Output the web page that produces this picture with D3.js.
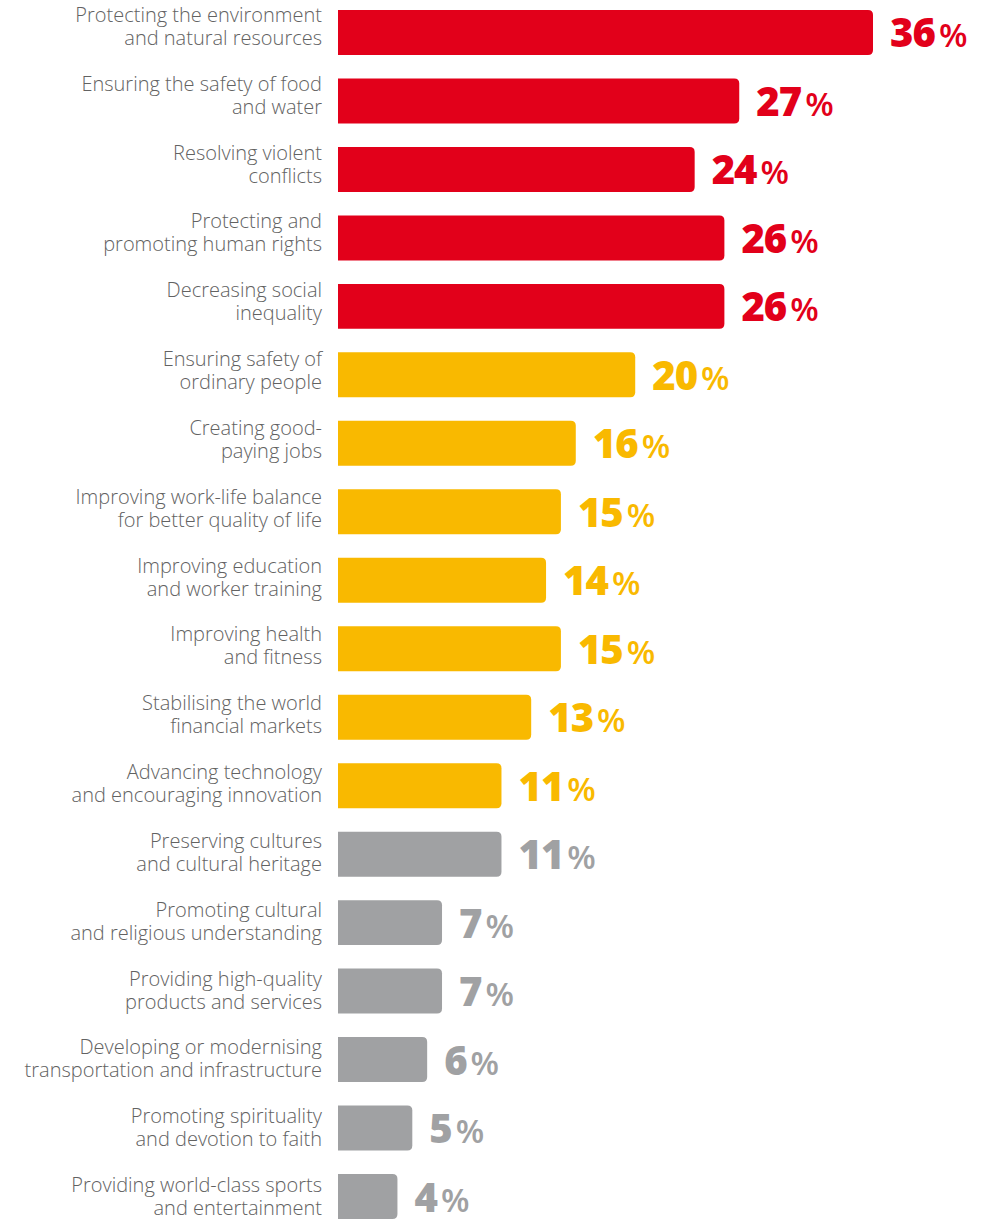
<!DOCTYPE html>
<html>
<head>
<meta charset="utf-8">
<script src="https://cdn.jsdelivr.net/npm/d3@7"></script>
<style>
  html, body { margin: 0; padding: 0; background: #fff; }
  svg { display: block; }
</style>
</head>
<body>
<svg id="chart"></svg>
<script>
// data
const labelLine1 = [
  'Protecting the environment', 'Ensuring the safety of food', 'Resolving violent',
  'Protecting and', 'Decreasing social', 'Ensuring safety of', 'Creating good-',
  'Improving work-life balance', 'Improving education', 'Improving health',
  'Stabilising the world', 'Advancing technology', 'Preserving cultures',
  'Promoting cultural', 'Providing high-quality', 'Developing or modernising',
  'Promoting spirituality', 'Providing world-class sports'
];
const labelLine2 = [
  'and natural resources', 'and water', 'conflicts',
  'promoting human rights', 'inequality', 'ordinary people', 'paying jobs',
  'for better quality of life', 'and worker training', 'and fitness',
  'financial markets', 'and encouraging innovation', 'and cultural heritage',
  'and religious understanding', 'products and services', 'transportation and infrastructure',
  'and devotion to faith', 'and entertainment'
];
const values = [36, 27, 24, 26, 26, 20, 16, 15, 14, 15, 13, 11, 11, 7, 7, 6, 5, 4];
const groups = ['top', 'top', 'top', 'top', 'top', 'mid', 'mid', 'mid', 'mid', 'mid', 'mid', 'mid',
  'low', 'low', 'low', 'low', 'low', 'low'];

const groupColor = { top: '#e2001a', mid: '#f9b900', low: '#a0a1a3' };

const width = 991, height = 1224;
const data = values.map((v, i) => ({ id: i, a: labelLine1[i], b: labelLine2[i], value: v, group: groups[i] }));

const svg = d3.select('#chart')
  .attr('width', width)
  .attr('height', height);

const x = d3.scaleLinear()
  .domain([0, 36])
  .range([338, 873]);

const y = d3.scaleBand()
  .domain(data.map(d => d.id))
  .range([10, 1219])
  .paddingInner(0.343)
  .paddingOuter(0);

// the category text sits a touch higher than the bars near the top
const labelY = d3.scalePoint()
  .domain(data.map(d => d.id))
  .range([27, 1197]);

// bar with square left end and rounded right end
function barPath(d) {
  const x0 = x(0), x1 = x(d.value), y0 = y(d.id), h = y.bandwidth();
  const r = 5;
  return `M${x0},${y0}H${x1 - r}Q${x1},${y0} ${x1},${y0 + r}` +
    `V${y0 + h - r}Q${x1},${y0 + h} ${x1 - r},${y0 + h}H${x0}Z`;
}

svg.selectAll('path.bar')
  .data(data)
  .join('path')
  .attr('class', 'bar')
  .attr('d', barPath)
  .attr('fill', d => groupColor[d.group]);

// category labels, two lines, right aligned
const cat = svg.selectAll('text.cat')
  .data(data)
  .join('text')
  .attr('class', 'cat')
  .attr('text-anchor', 'end')
  .attr('font-family', '"Open Sans", sans-serif')
  .attr('font-weight', 300)
  .attr('font-size', 20)
  .attr('fill', '#626262');

cat.append('tspan')
  .attr('x', 322)
  .attr('y', d => labelY(d.id) - 5)
  .text(d => d.a);

cat.append('tspan')
  .attr('x', 322)
  .attr('y', d => labelY(d.id) + 18)
  .text(d => d.b);

// value labels
const val = svg.selectAll('text.val')
  .data(data)
  .join('text')
  .attr('class', 'val')
  .attr('x', d => x(d.value) + 17)
  .attr('y', d => y(d.id) + y.bandwidth() / 2 + 15)
  .attr('font-family', '"Open Sans", sans-serif')
  .attr('fill', d => groupColor[d.group]);

val.append('tspan')
  .attr('font-weight', 800)
  .attr('font-size', 40)
  .attr('letter-spacing', -1)
  .text(d => d.value);

val.append('tspan')
  .attr('dx', 4)
  .attr('font-weight', 600)
  .attr('font-size', 33)
  .text('%');
</script>
</body>
</html>
